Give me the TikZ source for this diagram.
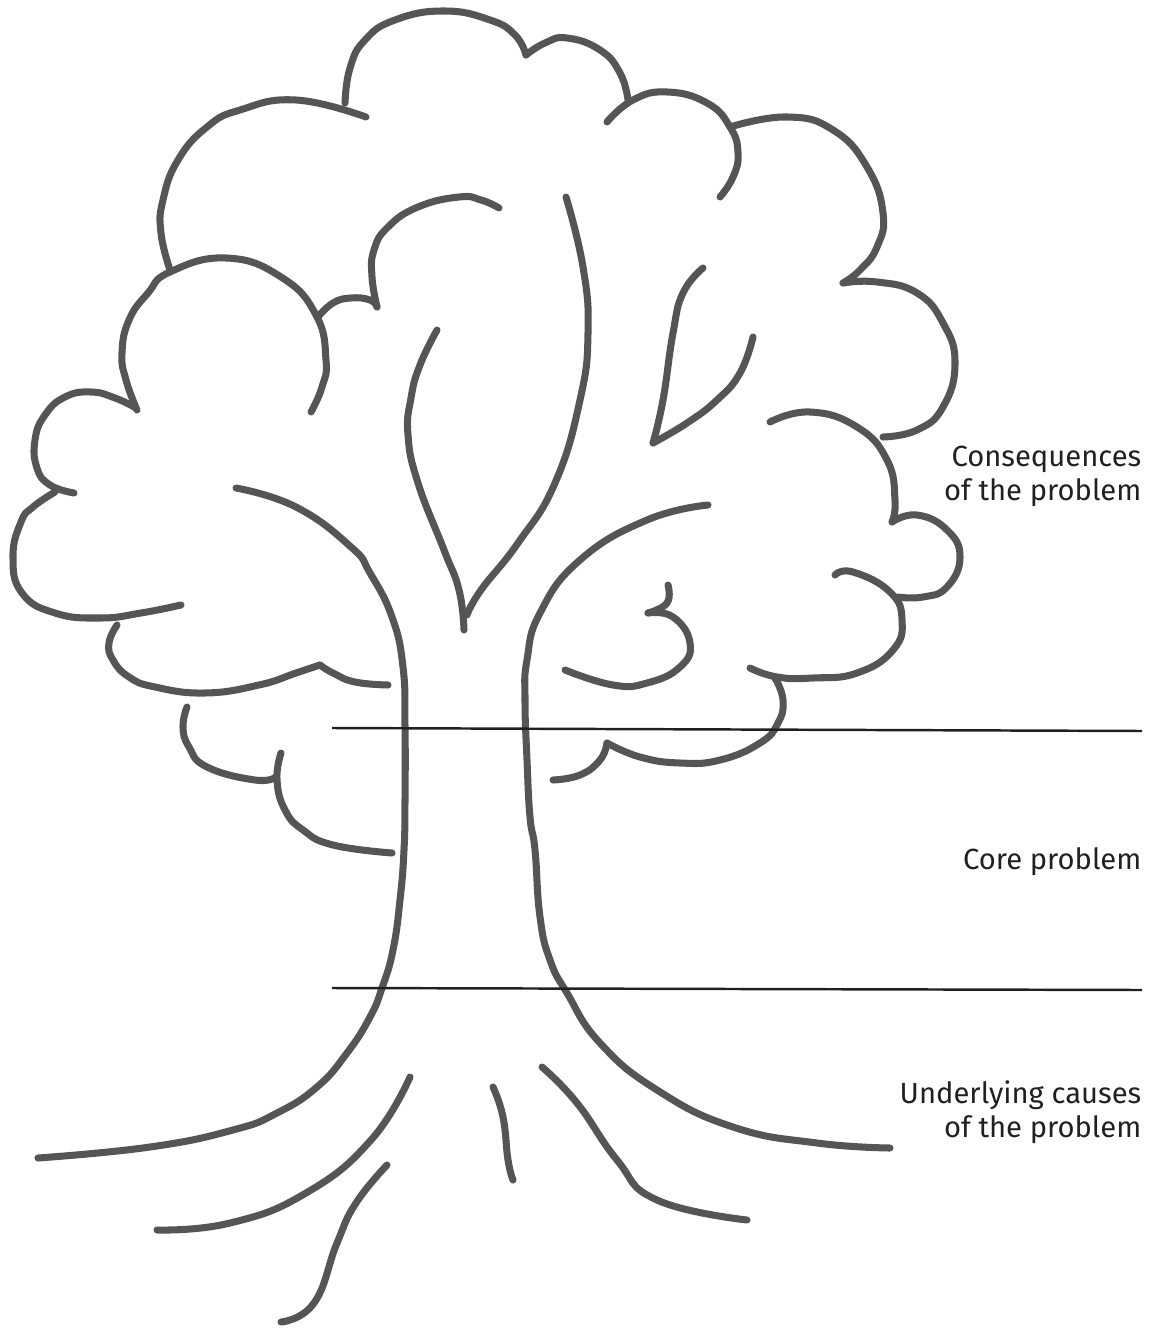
\documentclass[tikz,border=0pt]{standalone}
\usepackage{fontspec}
\setsansfont{Fira Sans}
\definecolor{treegray}{RGB}{85,85,88}
\definecolor{levelblack}{RGB}{35,31,32}
\begin{document}
\begin{tikzpicture}[x=0.01cm,y=-0.01cm,
  treeline/.style={line width=2pt,color=treegray,line cap=round,line join=round},
  levelline/.style={line width=0.7pt,color=levelblack},
  tag/.style={anchor=east,align=right,inner sep=0pt,font=\sffamily\fontsize{8.3}{9.6}\selectfont,text=levelblack}]
\useasboundingbox (0,0) rectangle (1160,1328);
%\draw [help lines, color=lightgray] (0,0) grid [step=100] (1160,1328);
% crown, top
\draw [treeline] plot [smooth,tension=0.8] coordinates {(345,103) (350,68) (365,40) (395,20) (444,11) (490,20) (515,35) (526,55)};
\draw [treeline] plot [smooth,tension=0.8] coordinates {(526,55) (545,43) (567,38) (600,50) (620,73) (628,100)};
\draw [treeline] plot [smooth,tension=0.8] coordinates {(607,122) (633,100) (667,92) (707,103) (730,127) (738,153) (733,177) (720,197)};
\draw [treeline] plot [smooth,tension=0.8] coordinates {(730,127) (787,117) (833,130) (867,167) (883,213) (877,247) (860,270) (843,283)};
\draw [treeline] plot [smooth,tension=0.8] coordinates {(843,283) (877,282) (917,293) (943,323) (955,363) (943,407) (917,430) (883,437)};
% crown, left
\draw [treeline] plot [smooth,tension=0.8] coordinates {(366,117) (296,100) (240,110) (207,127) (178,160) (163,200) (161,233) (170,270)};
\draw [treeline] plot [smooth,tension=0.8] coordinates {(137,410) (126,380) (122,353) (129,320) (148,293) (170,272) (226,258) (281,277) (316,315) (326,360) (322,387) (311,412)};
\draw [treeline] plot [smooth,tension=0.8] coordinates {(318,317) (333,303) (351,298) (370,300) (377,307)};
\draw [treeline] plot [smooth,tension=0.8] coordinates {(377,307) (372,277) (374,250) (388,227) (418,207) (459,197) (481,200) (499,208)};
\draw [treeline] plot [smooth,tension=0.8] coordinates {(136,408) (115,398) (91,392) (65,397) (45,415) (35,440) (37,468) (50,485) (74,493)};
\draw [treeline] plot [smooth,tension=0.8] coordinates {(55,492) (33,507) (21,522) (13,557) (22,593) (55,613) (100,618) (141,613) (181,605)};
\draw [treeline] plot [smooth,tension=0.8] coordinates {(117,625) (109,643) (113,660) (129,677) (155,687) (205,693) (259,685) (296,673) (320,665)};
\draw [treeline] plot [smooth,tension=0.8] coordinates {(320,665) (333,673) (355,682) (388,685)};
\draw [treeline] plot [smooth,tension=0.8] coordinates {(187,707) (183,727) (189,747) (207,767) (255,780) (276,777)};
\draw [treeline] plot [smooth,tension=0.8] coordinates {(281,753) (277,780) (285,810) (303,830) (333,845) (392,853)};
% crown, right
\draw [treeline] plot [smooth,tension=0.8] coordinates {(770,422) (810,412) (857,427) (887,460) (895,500) (892,522)};
\draw [treeline] plot [smooth,tension=0.8] coordinates {(892,522) (917,515) (947,530) (960,557) (947,587) (923,597) (898,597)};
\draw [treeline] plot [smooth,tension=0.8] coordinates {(835,575) (853,572) (890,592) (902,620) (893,650) (857,673) (813,678) (777,677) (750,668)};
\draw [treeline] plot [smooth,tension=0.8] coordinates {(775,678) (783,700) (778,723) (760,743) (720,760) (680,763) (640,757) (607,743)};
\draw [treeline] plot [smooth,tension=0.8] coordinates {(607,743) (600,760) (580,775) (553,780)};
\draw [treeline] plot [smooth,tension=0.8] coordinates {(668,585) (667,603) (648,613)};
\draw [treeline] plot [smooth,tension=0.8] coordinates {(648,613) (673,617) (690,643) (680,667) (647,683) (613,685) (565,670)};
% leaf
\draw [treeline] plot [smooth,tension=0.8] coordinates {(703,268) (683,293) (673,333) (663,400) (653,443)};
\draw [treeline] plot [smooth,tension=0.8] coordinates {(653,443) (687,423) (717,400) (740,373) (753,337)};
% branches and trunk
\draw [treeline] plot [smooth,tension=0.8] coordinates {(437,330) (420,365) (411,398) (408,435) (418,483) (444,550) (459,590) (464,630)};
\draw [treeline] plot [smooth,tension=0.8] coordinates {(566,197) (583,267) (588,333) (580,400) (555,483) (518,543) (481,590) (467,615)};
\draw [treeline] plot [smooth,tension=0.8] coordinates {(236,488) (296,507) (351,547) (370,573) (392,617) (403,667) (405,727) (405,800) (404,850) (400,900) (393,950) (382,988) (370,1017) (347,1053) (317,1087) (277,1113) (233,1130) (150,1147) (38,1158)};
\draw [treeline] plot [smooth,tension=0.8] coordinates {(708,505) (647,520) (580,560) (540,613) (527,660) (525,700) (527,760) (530,817) (535,850) (540,917) (550,960) (567,993) (600,1043) (657,1090) (733,1127) (817,1143) (890,1148)};
% roots
\draw [treeline] plot [smooth,tension=0.8] coordinates {(410,1077) (371,1140) (306,1193) (230,1223) (157,1230)};
\draw [treeline] plot [smooth,tension=0.8] coordinates {(387,1165) (356,1203) (337,1243) (314,1303) (281,1322)};
\draw [treeline] plot [smooth,tension=0.8] coordinates {(493,1087) (503,1117) (508,1160) (513,1180)};
\draw [treeline] plot [smooth,tension=0.8] coordinates {(542,1067) (577,1103) (617,1160) (657,1200) (747,1220)};
% levels
\coordinate (topL) at (332,728);
\coordinate (topR) at (1142,731);
\coordinate (botL) at (332,988);
\coordinate (botR) at (1142,990);
\draw [levelline] (topL) -- (topR);
\draw [levelline] (botL) -- (botR);
\node (conseq) [tag] at (1142,476) {Consequences\\of the problem};
\node (core) [tag] at (1142,862) {Core problem};
\node (causes) [tag] at (1142,1112) {Underlying causes\\of the problem};
\end{tikzpicture}
\end{document}
